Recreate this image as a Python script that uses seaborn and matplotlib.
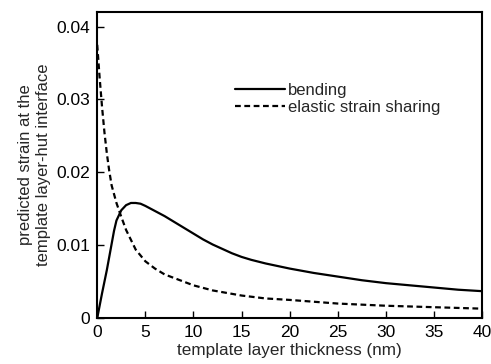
import numpy as np
import pandas as pd
import matplotlib
matplotlib.use("Agg")
import matplotlib.pyplot as plt
import seaborn as sns

# values
bending_x = [0, 0.25, 0.5, 0.75, 1, 1.25, 1.5, 1.75, 2, 2.5, 3, 3.5, 4, 4.5, 5, 6, 7, 8, 9,
             10, 11, 12, 13, 14, 15, 16, 17.5, 20, 22.5, 25, 27.5, 30, 32.5, 35, 37.5, 40]
bending_y = [0, 0.0017, 0.0034, 0.0050, 0.0066, 0.0084, 0.0102, 0.0120, 0.0134, 0.0148,
             0.0155, 0.0158, 0.0158, 0.0157, 0.0154, 0.0147, 0.0140, 0.0132, 0.0124,
             0.0116, 0.0108, 0.0101, 0.0095, 0.0089, 0.0084, 0.0080, 0.0075, 0.0068,
             0.0062, 0.0057, 0.0052, 0.0048, 0.0045, 0.0042, 0.0039, 0.0037]

sharing_x = [0, 0.25, 0.5, 0.75, 1, 1.25, 1.5, 2, 2.5, 3, 4, 5, 6, 7, 8, 10, 12, 15,
             17.5, 20, 25, 30, 35, 40]
sharing_y = [0.0375, 0.0330, 0.0290, 0.0255, 0.0226, 0.0202, 0.0182, 0.0158, 0.0139,
             0.0121, 0.0094, 0.0078, 0.0068, 0.0060, 0.0055, 0.0045, 0.0038, 0.0031,
             0.0027, 0.0025, 0.0020, 0.0017, 0.0015, 0.0013]

x_ticks = [0, 5, 10, 15, 20, 25, 30, 35, 40]
y_ticks = [0, 0.01, 0.02, 0.03, 0.04]
y_tick_labels = ["0", "0.01", "0.02", "0.03", "0.04"]

df = pd.concat([
    pd.DataFrame({"x": bending_x, "y": bending_y, "model": "bending"}),
    pd.DataFrame({"x": sharing_x, "y": sharing_y, "model": "elastic strain sharing"}),
])

sns.set_style("white")
plt.rcParams["font.family"] = ["Liberation Sans", "DejaVu Sans"]

fig = plt.figure(figsize=(4.91, 3.64), dpi=100)
ax = fig.add_axes([0.198, 0.126, 0.784, 0.841])

sns.lineplot(data=df, x="x", y="y", style="model", color="black",
             dashes={"bending": "", "elastic strain sharing": (2.6, 1.6)},
             linewidth=1.6, sort=False, estimator=None, ax=ax)

ax.set_xlim(0, 40)
ax.set_ylim(0, 0.042)
ax.set_xticks(x_ticks)
ax.set_yticks(y_ticks)
ax.set_yticklabels(y_tick_labels)
ax.tick_params(direction="in", length=5, width=1, labelsize=12.5, colors="black",
               bottom=True, left=True, top=False, right=False)
ax.tick_params(axis="x", pad=5)
ax.tick_params(axis="y", pad=5)
for s in ax.spines.values():
    s.set_color("black")
    s.set_linewidth(1.5)

ax.set_xlabel("template layer thickness (nm)", fontsize=12.3, labelpad=2)
ax.set_ylabel("predicted strain at the\ntemplate layer-hut interface", fontsize=12, labelpad=4)

ax.legend(loc="upper left", bbox_to_anchor=(0.318, 0.818), frameon=False, fontsize=12,
          handlelength=3.0, handletextpad=0.2, labelspacing=0.15)

fig.savefig("out.png", dpi=100)
